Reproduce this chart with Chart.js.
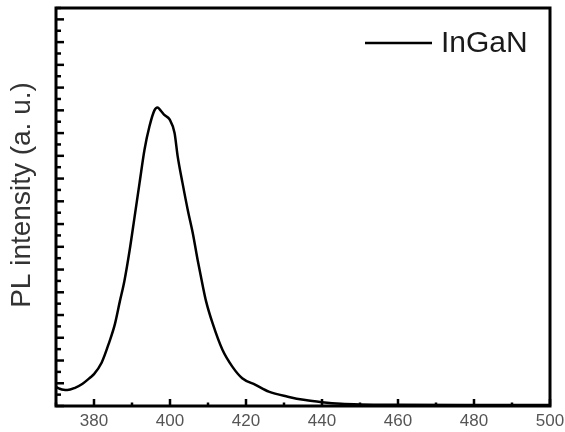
<!DOCTYPE html>
<html>
<head>
<meta charset="utf-8">
<script src="https://cdn.jsdelivr.net/npm/chart.js@4.4.1/dist/chart.umd.min.js"></script>
<style>
  html, body { margin: 0; padding: 0; background: #fff; }
  #wrap { width: 565px; height: 432px; }
</style>
</head>
<body>
<div id="wrap"><canvas id="plChart" width="565" height="432"></canvas></div>
<script>
// values (wavelength in nm, PL in arbitrary units)
const wavelength = [370, 371, 372, 373, 375, 377, 379, 380, 382, 384, 385.5, 386.8, 388, 389.4, 390.7, 392, 393.3, 394.6, 395.9, 396.7, 397.5, 398.5, 399.9, 401.2, 402, 403.3, 404.7, 406, 407.3, 408.6, 409.5, 411.2, 413.8, 416.4, 419, 422.5, 426, 431, 435.6, 440, 445, 450, 460, 480, 500];
const intensity = [0.84, 0.76, 0.71, 0.70, 0.80, 0.98, 1.25, 1.40, 1.90, 2.80, 3.6, 4.6, 5.5, 6.87, 8.34, 9.82, 11.28, 12.3, 13.0, 13.13, 13.0, 12.8, 12.6, 12.0, 11.0, 9.8, 8.6, 7.6, 6.4, 5.3, 4.6, 3.64, 2.47, 1.73, 1.22, 0.93, 0.63, 0.41, 0.26, 0.17, 0.10, 0.07, 0.05, 0.04, 0.04];
const xLabels = [380, 400, 420, 440, 460, 480, 500];
const seriesName = 'InGaN';
const yTitle = 'PL intensity (a. u.)';

const FONT = '"Liberation Sans", Arial, sans-serif';

// frame, inward ticks, y title and the legend
const framePlugin = {
  id: 'frame',
  afterDraw(chart) {
    const ctx = chart.ctx;
    const a = chart.chartArea;
    const xs = chart.scales.x;
    const ys = chart.scales.y;
    ctx.save();
    ctx.strokeStyle = '#000';
    ctx.lineWidth = 2.5;
    xs.ticks.forEach(t => {
      const px = xs.getPixelForValue(t.value);
      const len = t.value % 20 === 0 ? 7 : 3.5;
      ctx.beginPath();
      ctx.moveTo(px, a.bottom);
      ctx.lineTo(px, a.bottom - len);
      ctx.stroke();
    });
    ys.ticks.forEach(t => {
      const py = ys.getPixelForValue(t.value);
      const len = Number.isInteger(t.value) ? 8 : 5;
      ctx.beginPath();
      ctx.moveTo(a.left, py);
      ctx.lineTo(a.left + len, py);
      ctx.stroke();
    });
    ctx.lineWidth = 3;
    ctx.strokeRect(a.left, a.top, a.right - a.left, a.bottom - a.top);

    // y title
    ctx.save();
    ctx.translate(22, 195);
    ctx.rotate(-Math.PI / 2);
    ctx.fillStyle = '#333';
    ctx.font = '28px ' + FONT;
    ctx.textAlign = 'center';
    ctx.textBaseline = 'middle';
    ctx.fillText(yTitle, 0, 0);
    ctx.restore();

    // legend
    const ds = chart.data.datasets[0];
    ctx.lineWidth = 2.5;
    ctx.strokeStyle = ds.borderColor;
    ctx.beginPath();
    ctx.moveTo(365, 43);
    ctx.lineTo(432, 43);
    ctx.stroke();
    ctx.fillStyle = '#1a1a1a';
    ctx.font = '30px ' + FONT;
    ctx.textBaseline = 'middle';
    ctx.fillText(ds.label, 441, 44);
    ctx.restore();
  }
};

new Chart(document.getElementById('plChart'), {
  type: 'line',
  data: {
    datasets: [{
      label: seriesName,
      data: wavelength.map((w, i) => ({ x: w, y: intensity[i] })),
      borderColor: '#000',
      borderWidth: 2.5,
      pointRadius: 0,
      fill: false,
      cubicInterpolationMode: 'monotone'
    }]
  },
  options: {
    responsive: false,
    animation: false,
    layout: { padding: { top: 8, right: 15, left: 0, bottom: 0 } },
    plugins: { legend: { display: false }, tooltip: { enabled: false } },
    scales: {
      x: {
        type: 'linear',
        min: 370,
        max: 500,
        grid: { display: false, drawTicks: false },
        border: { display: false },
        ticks: {
          stepSize: 10,
          padding: 5,
          color: '#555',
          font: { family: FONT, size: 17 },
          maxRotation: 0,
          autoSkip: false,
          callback: v => xLabels.includes(v) ? String(v) : ''
        },
        afterFit: s => { s.height = 26; s.paddingLeft = 0; s.paddingRight = 0; }
      },
      y: {
        min: 0,
        max: 17.5,
        grid: { display: false, drawTicks: false },
        border: { display: false },
        ticks: { display: false, stepSize: 0.5 },
        afterFit: s => { s.width = 56; s.paddingTop = 0; s.paddingBottom = 0; }
      }
    }
  },
  plugins: [framePlugin]
});
</script>
</body>
</html>
